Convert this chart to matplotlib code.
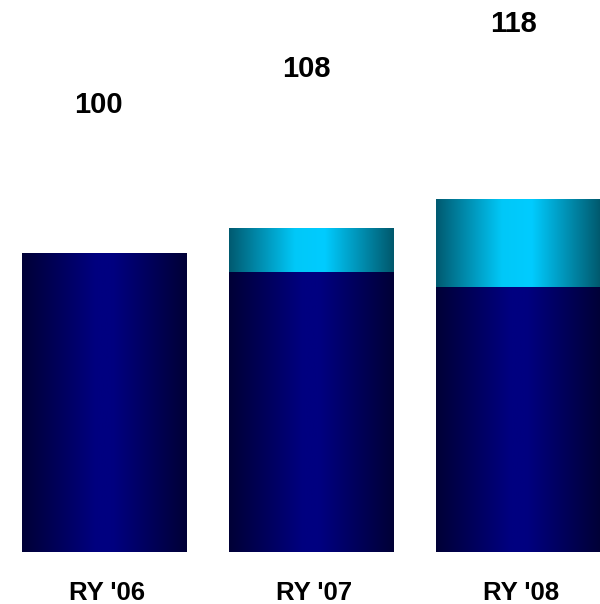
import numpy as np
import matplotlib
matplotlib.use("Agg")
import matplotlib.pyplot as plt
import matplotlib.transforms as mtransforms
from matplotlib.colors import LinearSegmentedColormap

categories = ["RY '06", "RY '07", "RY '08"]
base_values = [100, 93.6, 88.6]
increment_values = [0, 14.4, 29.4]
total_labels = [100, 108, 118]

plt.rcParams['font.family'] = ['Liberation Sans', 'DejaVu Sans']

fig = plt.figure(figsize=(6.0, 6.04), dpi=100)
ax = fig.add_axes([0, 52 / 604, 1, 552 / 604])

width = 0.792
x = np.arange(len(categories))

navy = LinearSegmentedColormap.from_list(
    "navy", [(0.0, "#000036"), (0.45, "#000080"), (0.55, "#000080"), (1.0, "#000036")])
cyan = LinearSegmentedColormap.from_list(
    "cyan", [(0.0, "#005a70"), (0.40, "#00c8f8"), (0.58, "#00ccff"), (1.0, "#00586c")])

grad = np.linspace(0, 1, 256).reshape(1, -1)

b1 = ax.bar(x, base_values, width=width, color="none", edgecolor="none")
b2 = ax.bar(x, increment_values, width=width, bottom=base_values,
            color="none", edgecolor="none")

for bars, cmap in ((b1, navy), (b2, cyan)):
    for r in bars:
        h = r.get_height()
        if h <= 0:
            continue
        x0, y0, w = r.get_x(), r.get_y(), r.get_width()
        ax.imshow(grad, cmap=cmap, aspect="auto",
                  extent=(x0, x0 + w, y0, y0 + h), interpolation="bicubic", zorder=2)

for xi, v in zip(x, total_labels):
    ax.annotate(str(v), (xi, v * 1.5), xytext=(-3.5, -1), textcoords="offset points",
                ha="center", va="center", fontsize=21, fontweight="bold", color="black")

ax.set_xlim(-0.5, len(categories) - 1 + width / 2)
ax.set_ylim(0, 552 / 2.99)
ax.set_xticks(x)
ax.set_xticklabels(categories, fontsize=18.5, fontweight="bold")
ax.tick_params(axis="x", length=0, pad=21)
offset = mtransforms.ScaledTranslation(3 / 100, 0, fig.dpi_scale_trans)
for lbl in ax.get_xticklabels():
    lbl.set_transform(lbl.get_transform() + offset)
ax.set_yticks([])
for s in ax.spines.values():
    s.set_visible(False)
ax.set_facecolor("white")

fig.savefig("out.png", dpi=100, facecolor="white")
